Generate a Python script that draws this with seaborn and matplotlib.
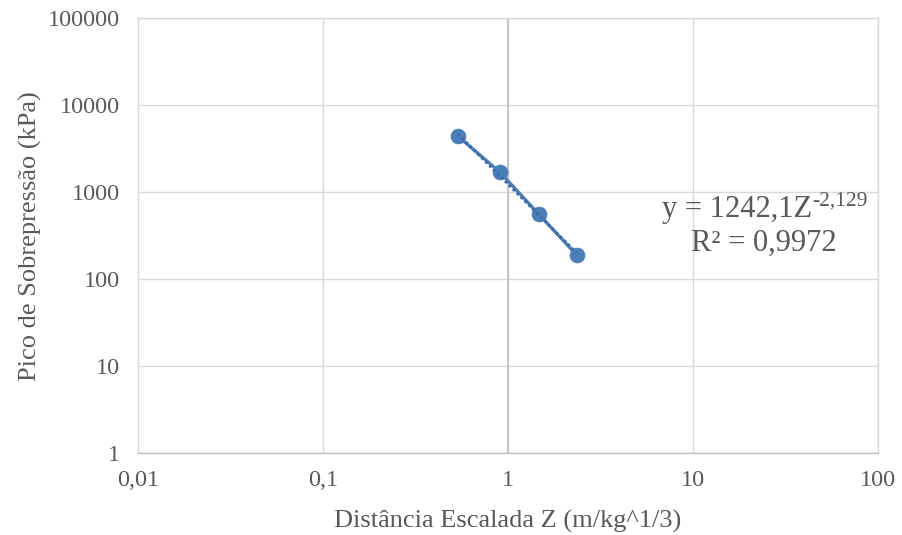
import numpy as np
import pandas as pd
import matplotlib
matplotlib.use("Agg")
import matplotlib.pyplot as plt
import seaborn as sns

z_values = [0.537, 0.905, 1.47, 2.36]
pressure = [4400, 1700, 558, 189]
trend_a = 1242.1
trend_b = -2.129
x_ticks = [0.01, 0.1, 1, 10, 100]
x_tick_labels = ["0,01", "0,1", "1", "10", "100"]
y_ticks = [1, 10, 100, 1000, 10000, 100000]
y_tick_labels = ["1", "10", "100", "1000", "10000", "100000"]

sns.set_theme(style="white")
plt.rcParams['font.family'] = ['Liberation Serif', 'DejaVu Serif']

fig = plt.figure(figsize=(9.02, 5.35), dpi=100)
ax = fig.add_axes([0.153, 0.153, 0.820, 0.813])

df = pd.DataFrame({"Z": z_values, "P": pressure})
blue = "#4a7ebb"
sns.lineplot(data=df, x="Z", y="P", ax=ax, color=blue, linewidth=2.4,
             marker="o", markersize=10.5, markeredgecolor=blue, zorder=3)

zz = np.geomspace(min(z_values), max(z_values), 50)
tdf = pd.DataFrame({"Z": zz, "P": trend_a * zz ** trend_b})
sns.lineplot(data=tdf, x="Z", y="P", ax=ax, color="#3a6aa8", linewidth=2.0,
             linestyle=(0, (1, 1)), zorder=4)

ax.set_xscale("log")
ax.set_yscale("log")
ax.set_xlim(0.01, 100)
ax.set_ylim(1, 100000)
ax.set_xticks(x_ticks)
ax.set_xticklabels(x_tick_labels)
ax.set_yticks(y_ticks)
ax.set_yticklabels(y_tick_labels)
ax.minorticks_off()
ax.grid(True, color="#d9d9d9", linewidth=1.0, zorder=0)
ax.set_axisbelow(True)
for s in ax.spines.values():
    s.set_color("#d9d9d9")
    s.set_linewidth(1.0)
ax.spines["bottom"].set_color("#bfbfbf")
ax.axvline(1, color="#bfbfbf", linewidth=1.2, zorder=1)
ax.tick_params(axis="both", colors="#595959", labelsize=17.5, length=0)
ax.tick_params(axis="x", pad=12)
ax.tick_params(axis="y", pad=13)

ax.set_xlabel("Distância Escalada Z (m/kg^1/3)", fontsize=19, color="#595959", labelpad=14)
ax.set_ylabel("Pico de Sobrepressão (kPa)", fontsize=19, color="#595959", labelpad=4)

ax.text(0.911, 0.5425, "y = 1242,1Z", transform=ax.transAxes,
        ha="right", va="baseline", fontsize=22, color="#595959")
ax.text(0.911, 0.570, "-2,129", transform=ax.transAxes,
        ha="left", va="baseline", fontsize=15.5, color="#595959")
ax.text(0.846, 0.464, "R² = 0,9972", transform=ax.transAxes,
        ha="center", va="baseline", fontsize=22, color="#595959")

fig.savefig("out.png", dpi=100, facecolor="white")
